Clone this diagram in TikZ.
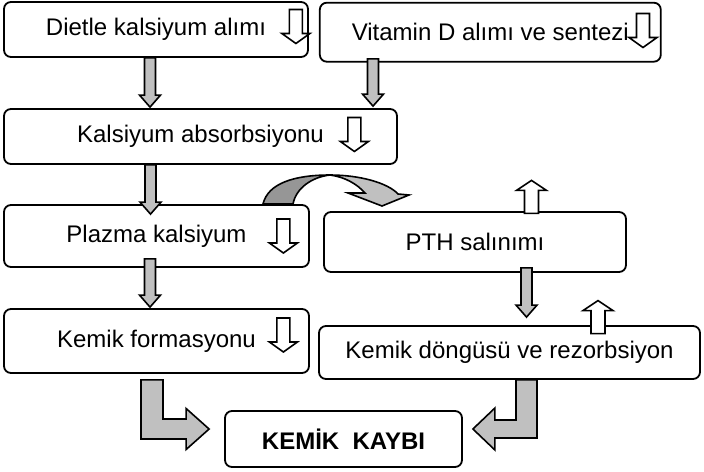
\documentclass[tikz,border=0pt]{standalone}
\usepackage{fontspec}
\setmainfont{Liberation Sans}
\usetikzlibrary{calc}
\definecolor{shaftgray}{RGB}{192,192,192}
\definecolor{foldgray}{RGB}{150,150,150}
\tikzset{
	box/.style={draw, line width=0.9pt, rounded corners=3.5pt, fill=white, inner sep=0pt, font=\fontsize{12}{14}\selectfont},
	garrow/.style={draw, line width=0.8pt, fill=shaftgray, to path={let \p1=(\tikztostart), \p2=(\tikztotarget) in (\x1-2.75pt,\y1) -- (\x1+2.75pt,\y1) -- (\x1+2.75pt,\y2+6pt) -- (\x1+5.25pt,\y2+6pt) -- (\x1,\y2) -- (\x1-5.25pt,\y2+6pt) -- (\x1-2.75pt,\y2+6pt) -- cycle}},
	lbendr/.style={draw, line width=0.8pt, fill=shaftgray, to path={let \p1=(\tikztostart), \p2=(\tikztotarget) in (\x1-5.5pt,\y1) -- (\x1+5.5pt,\y1) -- (\x1+5.5pt,\y2+5pt) -- (\x2-11.5pt,\y2+5pt) -- (\x2-11.5pt,\y2+10.25pt) -- (\x2,\y2) -- (\x2-11.5pt,\y2-10.25pt) -- (\x2-11.5pt,\y2-5pt) -- (\x1-5.5pt,\y2-5pt) -- cycle}},
	lbendl/.style={draw, line width=0.8pt, fill=shaftgray, to path={let \p1=(\tikztostart), \p2=(\tikztotarget) in (\x1-5.25pt,\y1) -- (\x1+5.25pt,\y1) -- (\x1+5.25pt,\y2-4.5pt) -- (\x2+11pt,\y2-4.5pt) -- (\x2+11pt,\y2-10.5pt) -- (\x2,\y2) -- (\x2+11pt,\y2+10.5pt) -- (\x2+11pt,\y2+4.5pt) -- (\x1-5.25pt,\y2+4.5pt) -- cycle}},
	dnarr/.pic={\draw[line width=0.8pt, fill=white] (-6.5,-17) -- (6.5,-17) -- (6.5,7) -- (14,7) -- (0,17) -- (-14,7) -- (-6.5,7) -- cycle;},
	uparr/.pic={\draw[line width=0.8pt, fill=white] (-7,17) -- (7,17) -- (7,-6) -- (15,-6) -- (0,-16) -- (-15,-6) -- (-7,-6) -- cycle;}
}
\begin{document}
\begin{tikzpicture}[x=0.5pt, y=-0.5pt]
	\useasboundingbox (0,0) rectangle (704,471);
	\node [box, minimum width=152pt, minimum height=27.5pt] (diet) at (156,29.5) {Dietle kalsiyum alımı};
	\node [box, minimum width=170.5pt, minimum height=29.5pt] (vitd) at (490.3,32.2) {Vitamin D alımı ve sentezi};
	\node [box, minimum width=196.5pt, minimum height=27.5pt] (abs) at (200.5,136.5) {Kalsiyum absorbsiyonu};
	\node [box, minimum width=152.5pt, minimum height=31pt] (plaz) at (156.5,236) {Plazma kalsiyum};
	\node [box, minimum width=152.5pt, minimum height=32pt] (form) at (156.5,341) {Kemik formasyonu};
	\node [box, minimum width=151pt, minimum height=30pt] (pth) at (475,242) {PTH salınımı};
	\node [box, minimum width=190.5pt, minimum height=26.5pt] (cyc) at (509.5,352.5) {Kemik döngüsü ve rezorbsiyon};
	\node [box, minimum width=118.5pt, minimum height=28pt] (loss) at (343.5,439) {\textbf{KEMİK\ \ KAYBI}};
	\draw [garrow] ($(diet.south)+(-6,0)$) to ($(abs.north)+(-6,-1)$);
	\draw [garrow] ($(vitd.south)+(-117.3,-3.7)$) to ($(abs.north)+(172.5,-2)$);
	\draw [garrow] ($(abs.south)+(-50,0)$) to ($(plaz.north)+(-6.5,10)$);
	\draw [garrow] ($(plaz.south)+(-6.5,-9)$) to ($(form.north)+(-6.5,-1)$);
	\draw [garrow] ($(pth.south)+(51.5,-5)$) to ($(cyc.north)+(17,-8)$);
	\pic at ($(diet.east)+(-13,-3)$) {dnarr};
	\pic at ($(vitd.east)+(-18.7,-1.7)$) {dnarr};
	\pic at ($(abs.east)+(-43.5,-2)$) {dnarr};
	\pic at ($(plaz.east)+(-26.5,0)$) {dnarr};
	\pic at ($(form.east)+(-26.5,-6)$) {dnarr};
	\pic at ($(pth.north)+(56.5,-14.7)$) {uparr};
	\pic at ($(cyc.north)+(88.5,-8.5)$) {uparr};
	\draw [line width=0.8pt, fill=foldgray] (263,204) .. controls (268,183) and (295,175) .. (330,175) .. controls (312,177) and (296,188) .. (293,204) -- cycle;
	\draw [line width=0.8pt, fill=shaftgray] (330,175) .. controls (360,175) and (388,183) .. (398,194) -- (409,195) -- (382,206) -- (348,193) -- (365,193) .. controls (357,184) and (345,177) .. (330,175) -- cycle;
	\draw [lbendr] ($(form.south)+(-4.5,6)$) to ($(loss.west)+(-15,-10)$);
	\draw [lbendl] ($(cyc.south)+(17,0)$) to ($(loss.east)+(10,-10)$);
\end{tikzpicture}
\end{document}
